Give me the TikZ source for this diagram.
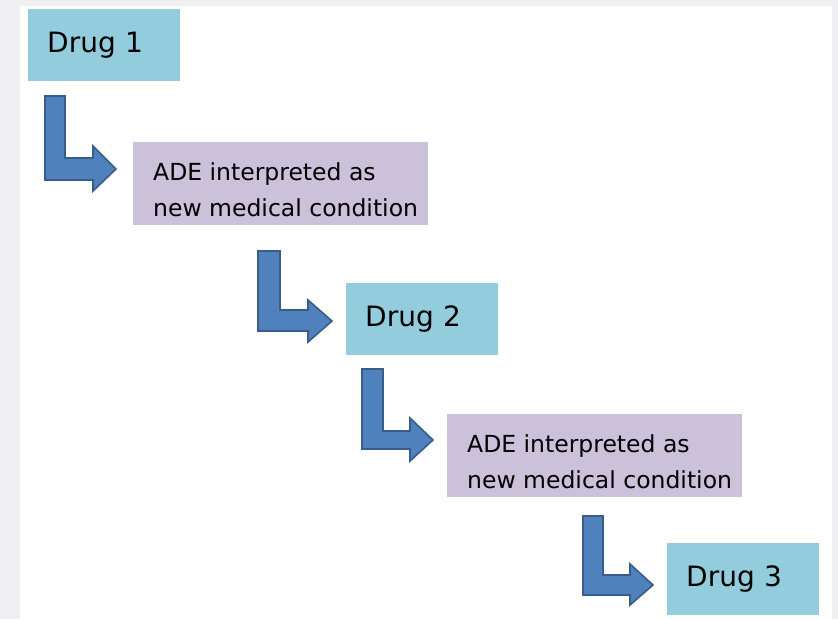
\documentclass[tikz,border=0pt]{standalone}
\usepackage{fontspec}
\setmainfont{DejaVu Sans}
\definecolor{pagegray}{HTML}{EFEFF1}
\definecolor{drugblue}{HTML}{93CDDD}
\definecolor{adelav}{HTML}{CCC1DA}
\definecolor{arrowfill}{HTML}{4F81BD}
\definecolor{arrowline}{HTML}{385D8A}
\tikzset{
  drugbox/.style={fill=drugblue, draw=none, anchor=north west, minimum width=152pt, minimum height=72pt,
    text width=114pt, inner xsep=19pt, align=left, font=\fontsize{28}{34}\selectfont},
  adebox/.style={fill=adelav, draw=none, anchor=north west, minimum width=295pt, minimum height=83pt,
    inner sep=0pt},
  adetext/.style={anchor=west, inner sep=0pt, align=left, font=\fontsize{23.5}{36}\selectfont},
  larrow/.style={fill=arrowfill, draw=arrowline, line width=1.6pt, line join=miter}
}
\begin{document}
\begin{tikzpicture}[x=1pt,y=-1pt]
\useasboundingbox (0,0) rectangle (838,619);
\fill[pagegray] (0,0) rectangle (838,619);
\fill[white] (20,6) rectangle (832,619);

\node[drugbox] (d1) at (28,9) {Drug 1};
\node[adebox] (a1) at (133,142) {};
\node[adetext] (a1t) at ([xshift=20pt, yshift=-6pt]a1.west) {ADE interpreted as\\new medical condition};
\node[drugbox] (d2) at (346,283) {Drug 2};
\node[adebox] (a2) at (447,414) {};
\node[adetext] (a2t) at ([xshift=20pt, yshift=-6pt]a2.west) {ADE interpreted as\\new medical condition};
\node[drugbox] (d3) at (667,543) {Drug 3};

% bent arrows
\draw[larrow] (45,96) -- (65,96) -- (65,158) -- (93,158) -- (93,146) -- (116,169) -- (93,191) -- (93,180) -- (45,180) -- cycle;
\draw[larrow] (258,251) -- (280,251) -- (280,310) -- (308,310) -- (308,300) -- (332,321) -- (308,342) -- (308,331) -- (258,331) -- cycle;
\draw[larrow] (362,369) -- (383,369) -- (383,431) -- (410,431) -- (410,418) -- (433,440) -- (410,461) -- (410,449) -- (362,449) -- cycle;
\draw[larrow] (583,516) -- (603,516) -- (603,575) -- (630,575) -- (630,564) -- (653,585) -- (630,605) -- (630,595) -- (583,595) -- cycle;
\end{tikzpicture}
\end{document}
